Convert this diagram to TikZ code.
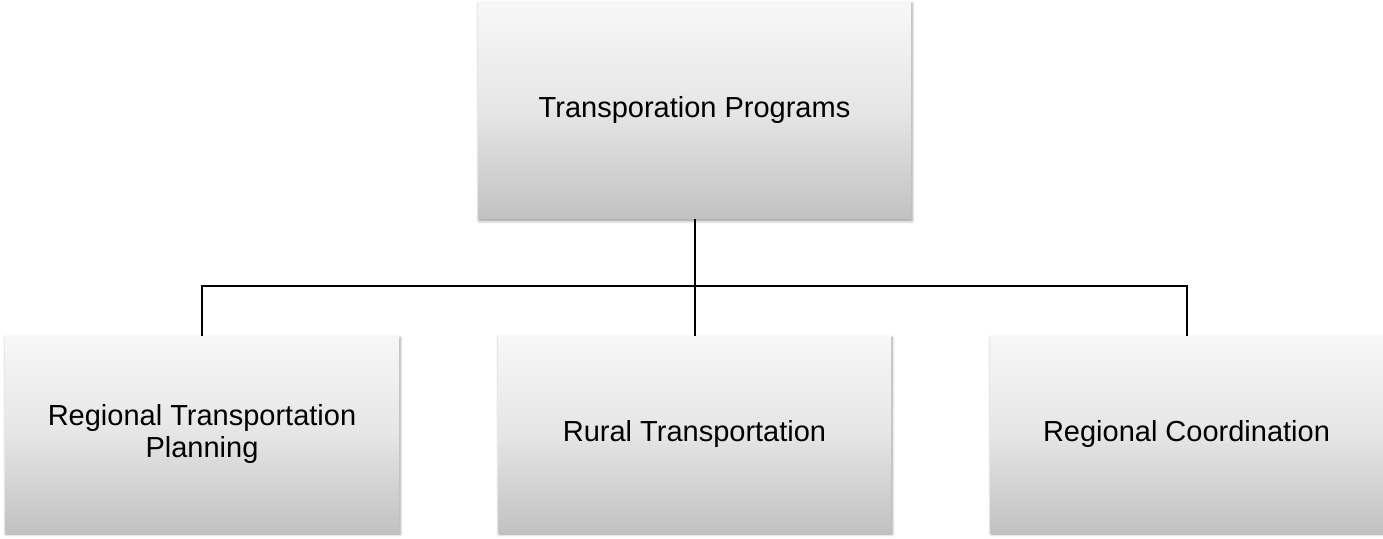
\documentclass[tikz,border=0pt]{standalone}
\usepackage{fontspec}
\setmainfont{Liberation Sans}
\usetikzlibrary{shadows.blur}
\begin{document}
\begin{tikzpicture}[x=1pt,y=1pt,
  orgbox/.style={rectangle, inner sep=0pt, align=center,
    top color=gray!6, bottom color=gray!48, middle color=gray!20,
    shading angle=0,
    blur shadow={shadow xshift=1pt, shadow yshift=-2pt, shadow blur radius=3pt, shadow opacity=40},
    font=\fontsize{29}{32}\selectfont},
  conn/.style={draw=black, line width=2pt}]
\useasboundingbox (0,0) rectangle (1383,538);
\node[orgbox, minimum width=433pt, minimum height=217pt] (top) at (694.5,427.5) {Transporation Programs};
\node[orgbox, minimum width=394pt, minimum height=196pt] (left) at (202,104) {Regional Transportation\\Planning};
\node[orgbox, minimum width=393pt, minimum height=196pt] (mid) at (694.5,104) {Rural Transportation};
\node[orgbox, minimum width=393pt, minimum height=196pt] (right) at (1186.5,104) {Regional Coordination};
\coordinate (bus) at (0,252);
\draw[conn] (top.south) -- (top.south |- bus);
\draw[conn] (left.north) -- (left.north |- bus) -- (right.north |- bus) -- (right.north);
\draw[conn] (mid.north) -- (mid.north |- bus);
\end{tikzpicture}
\end{document}
